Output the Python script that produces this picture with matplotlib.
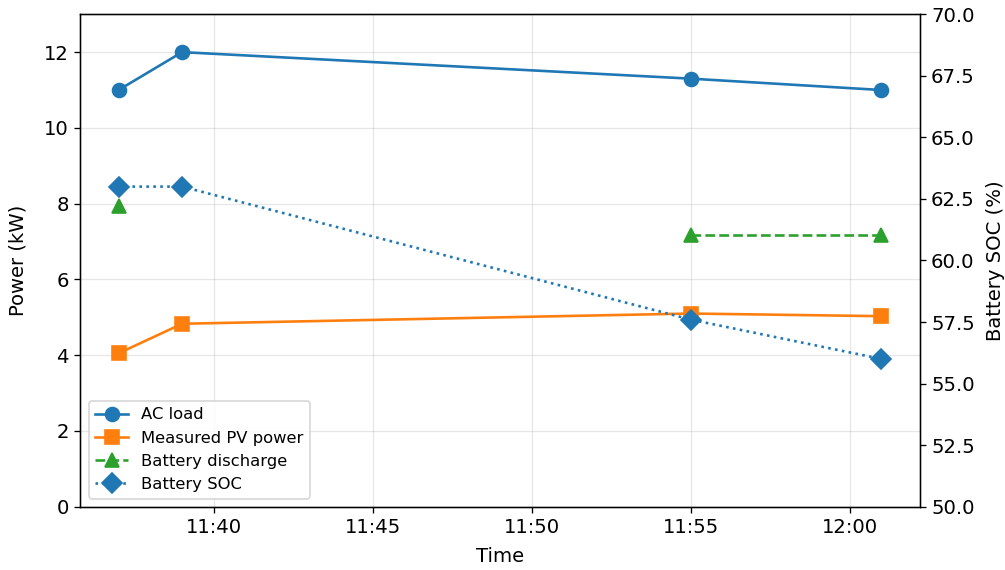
import matplotlib
matplotlib.use('Agg')
import matplotlib.pyplot as plt
import matplotlib.dates as mdates
import numpy as np
import pandas as pd

times = ['11:37', '11:39', '11:55', '12:01']
ac_load = [11.0, 12.0, 11.3, 11.0]
pv_power = [4.05, 4.83, 5.1, 5.03]
battery_discharge = [7.95, np.nan, 7.18, 7.18]
battery_soc = [63.0, 63.0, 57.6, 56.0]

x = pd.to_datetime(['2024-01-01 ' + t for t in times])

plt.rcParams['font.size'] = 12

DPI = 118
fig, ax = plt.subplots(figsize=(1005 / DPI, 570 / DPI), dpi=DPI)
fig.subplots_adjust(left=0.08, right=0.915, bottom=0.111, top=0.975)

l1, = ax.plot(x, ac_load, '-o', color='tab:blue', lw=1.6, ms=8.5, label='AC load')
l2, = ax.plot(x, pv_power, '-s', color='tab:orange', lw=1.6, ms=8.5, label='Measured PV power')
l3, = ax.plot(x, battery_discharge, '--^', color='tab:green', lw=1.6, ms=8.5, label='Battery discharge')
ax.set_ylim(0, 13)
ax.set_ylabel('Power (kW)', labelpad=10)
ax.set_xlabel('Time', labelpad=6)
ax.grid(alpha=0.3)
ax.xaxis.set_major_formatter(mdates.DateFormatter('%H:%M'))

ax2 = ax.twinx()
l4, = ax2.plot(x, battery_soc, ':D', color='tab:blue', lw=1.6, ms=8.5, label='Battery SOC')
ax2.set_ylim(50, 70)
ax2.set_ylabel('Battery SOC (%)', labelpad=7)

lines = [l1, l2, l3, l4]
ax2.legend(lines, [l.get_label() for l in lines], loc='lower left', fontsize='small')

fig.savefig('out.png', dpi=DPI)
